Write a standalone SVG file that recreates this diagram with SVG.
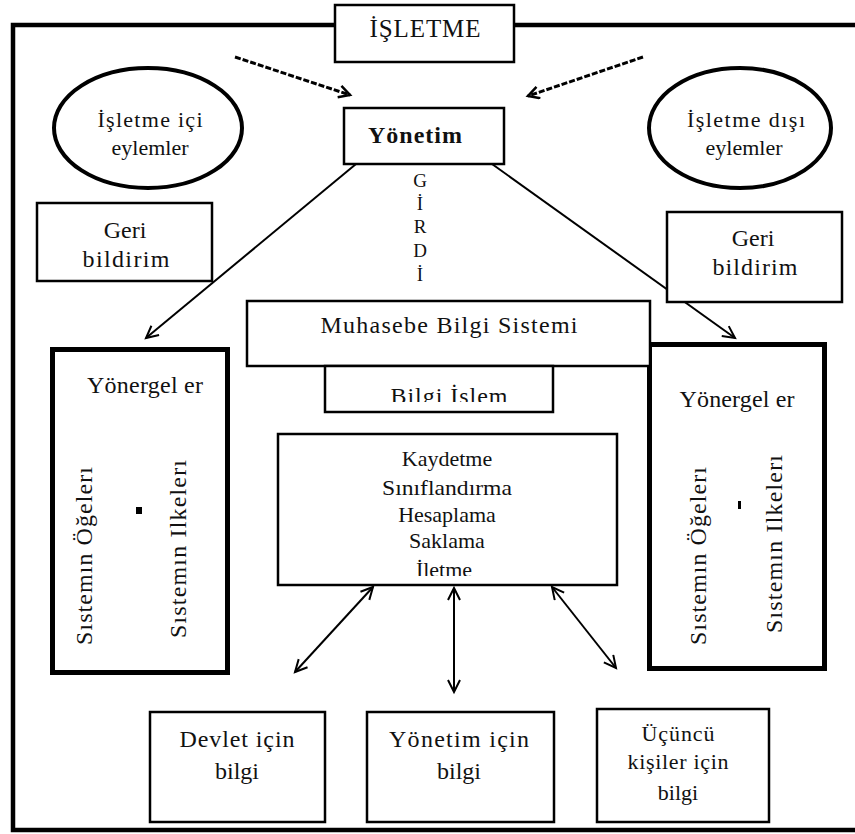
<svg xmlns="http://www.w3.org/2000/svg" width="855" height="834" viewBox="0 0 855 834" font-family="'Liberation Serif', 'DejaVu Serif', serif">
<style>
text{font-family:"Liberation Serif",serif;fill:#111;text-anchor:middle}
.box{fill:#fff;stroke:#000;stroke-width:2.5}
.thick{fill:#fff;stroke:#000;stroke-width:5}
.ell{fill:#fff;stroke:#000;stroke-width:4}
.ln{fill:none;stroke:#000;stroke-width:2}
.dash{fill:none;stroke:#000;stroke-width:3;stroke-dasharray:6 2}
.sa{font-family:"Liberation Serif",serif;font-size:22px}
.sb{font-family:"Liberation Serif",serif;font-size:24px}
</style>
<defs>
<marker id="ah" markerUnits="userSpaceOnUse" markerWidth="16" markerHeight="16" refX="13" refY="7" orient="auto-start-reverse">
<path d="M1,1 L13,7 L1,13" fill="none" stroke="#000" stroke-width="2"/>
</marker>
<marker id="ahd" markerUnits="userSpaceOnUse" markerWidth="16" markerHeight="16" refX="13" refY="7" orient="auto">
<path d="M2,1 L13,7 L2,13" fill="none" stroke="#000" stroke-width="2.5"/>
</marker>
<clipPath id="clipBI"><rect x="326" y="367" width="226" height="35"/></clipPath>
<clipPath id="clipK"><rect x="279" y="435" width="337" height="141"/></clipPath>
</defs>

<rect id="frame" x="13" y="25" width="852" height="805" fill="none" stroke="#000" stroke-width="4.5"/>

<g id="connectors">
<line class="dash" x1="235" y1="57" x2="350" y2="95" marker-end="url(#ahd)"/>
<line class="dash" x1="643" y1="57" x2="528" y2="96" marker-end="url(#ahd)"/>
<line class="ln" x1="356" y1="164" x2="146" y2="338" marker-end="url(#ah)"/>
<line class="ln" x1="492" y1="164" x2="735" y2="338" marker-end="url(#ah)"/>
<line class="ln" x1="373" y1="587" x2="295" y2="672" marker-start="url(#ah)" marker-end="url(#ah)"/>
<line class="ln" x1="454" y1="588" x2="454" y2="692" marker-start="url(#ah)" marker-end="url(#ah)"/>
<line class="ln" x1="552" y1="587" x2="616" y2="668" marker-start="url(#ah)" marker-end="url(#ah)"/>
</g>

<g id="isletme">
<rect class="box" x="335" y="5" width="179" height="57"/>
<text x="425" y="37" font-size="25" textLength="111" lengthAdjust="spacing">İŞLETME</text>
</g>

<g id="ic-eylemler">
<ellipse class="ell" cx="148" cy="128" rx="94" ry="60"/>
<text x="150" y="127" font-size="22" textLength="105" lengthAdjust="spacing">İşletme içi</text>
<text x="150" y="155" font-size="22">eylemler</text>
</g>

<g id="dis-eylemler">
<ellipse class="ell" cx="740" cy="128" rx="91" ry="60"/>
<text x="746" y="127" font-size="22" textLength="118" lengthAdjust="spacing">İşletme dışı</text>
<text x="744" y="155" font-size="22">eylemler</text>
</g>

<g id="yonetim">
<rect class="box" x="344" y="108" width="160" height="56"/>
<text x="415" y="143" font-size="24" font-weight="bold" textLength="94" lengthAdjust="spacing">Yönetim</text>
</g>

<g id="girdi" font-size="19">
<text x="420" y="187">G</text>
<text x="420" y="210">İ</text>
<text x="420" y="233">R</text>
<text x="420" y="257">D</text>
<text x="420" y="281">İ</text>
</g>

<g id="geri-sol" font-size="24">
<rect class="box" x="37" y="203" width="175" height="78"/>
<text x="125" y="238">Geri</text>
<text x="126" y="267" textLength="87" lengthAdjust="spacing">bildirim</text>
</g>

<g id="geri-sag" font-size="24">
<rect class="box" x="667" y="212" width="175" height="90"/>
<text x="753" y="246">Geri</text>
<text x="755" y="275" textLength="85" lengthAdjust="spacing">bildirim</text>
</g>

<g id="yonergeler-sol" font-size="24">
<rect class="thick" x="52.5" y="349.5" width="175" height="323"/>
<text x="145" y="393" textLength="116" lengthAdjust="spacing">Yönergel er</text>
<text transform="translate(92,556) rotate(-90)" textLength="178" lengthAdjust="spacing">Sıstemın Öğelerı</text>
<rect x="136" y="507" width="6" height="7" fill="#000"/>
<text transform="translate(186,549) rotate(-90)" textLength="178" lengthAdjust="spacing">Sıstemın Ilkelerı</text>
</g>

<g id="yonergeler-sag" font-size="24">
<rect class="thick" x="649.5" y="344.5" width="175" height="324"/>
<text x="737" y="407" textLength="115" lengthAdjust="spacing">Yönergel er</text>
<text transform="translate(706,556) rotate(-90)" textLength="178" lengthAdjust="spacing">Sıstemın Öğelerı</text>
<rect x="738" y="501" width="3" height="8" fill="#000"/>
<text transform="translate(782,544) rotate(-90)" textLength="178" lengthAdjust="spacing">Sıstemın Ilkelerı</text>
</g>

<g id="muhasebe" font-size="24">
<rect class="box" x="247" y="301" width="403" height="65"/>
<text x="449" y="333" textLength="257" lengthAdjust="spacing">Muhasebe Bilgi Sistemi</text>
</g>

<g id="bilgi-islem" font-size="24">
<rect class="box" x="325" y="366" width="228" height="46"/>
<text x="449" y="404" clip-path="url(#clipBI)" textLength="117" lengthAdjust="spacing">Bilgi İşlem</text>
</g>

<g id="islemler" font-size="22">
<rect class="box" x="278" y="434" width="339" height="151"/>
<g clip-path="url(#clipK)">
<text x="447" y="466">Kaydetme</text>
<text x="447" y="495" textLength="130" lengthAdjust="spacingAndGlyphs">Sınıflandırma</text>
<text x="447" y="522">Hesaplama</text>
<text x="447" y="548">Saklama</text>
<text x="444" y="577">İletme</text>
</g>
</g>

<g id="devlet" font-size="24">
<rect class="box" x="150" y="712" width="175" height="110"/>
<text x="237" y="747" textLength="115" lengthAdjust="spacing">Devlet için</text>
<text x="237" y="779">bilgi</text>
</g>

<g id="yonetim-bilgi" font-size="24">
<rect class="box" x="367" y="712" width="187" height="110"/>
<text x="459" y="747" textLength="140" lengthAdjust="spacing">Yönetim için</text>
<text x="459" y="779">bilgi</text>
</g>

<g id="ucuncu" font-size="22">
<rect class="box" x="597" y="709" width="172" height="113"/>
<text x="678" y="741" textLength="73" lengthAdjust="spacing">Üçüncü</text>
<text x="678" y="769" textLength="101" lengthAdjust="spacing">kişiler için</text>
<text x="678" y="800">bilgi</text>
</g>
</svg>
